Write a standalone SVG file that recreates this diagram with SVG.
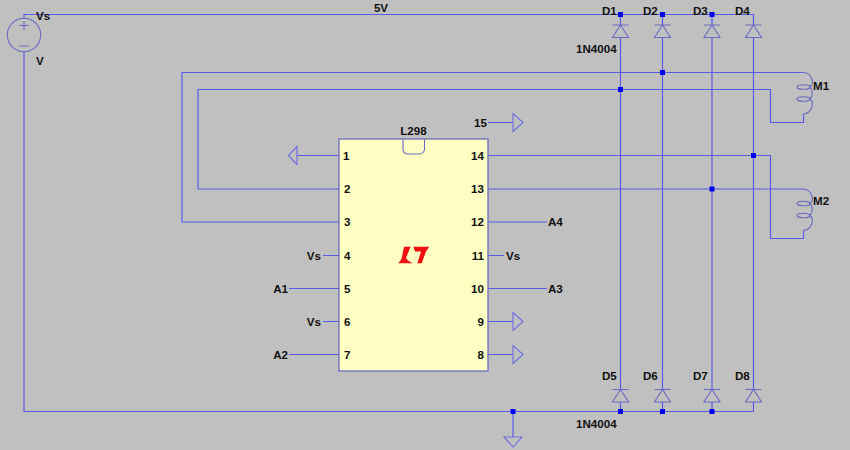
<svg xmlns="http://www.w3.org/2000/svg" width="850" height="450" viewBox="0 0 850 450">
<style>
.w{fill:none;stroke:#5a5ae6;stroke-width:1.2}
.s{fill:none;stroke:#6a6ac0;stroke-width:1.1}
.f{fill:none;stroke:#6c6ce0;stroke-width:1.1}
.j{fill:#0000f0}
text{font-family:"Liberation Sans",Arial,sans-serif;font-size:11.600px;font-weight:bold;fill:#111}
.m{text-anchor:middle}
.e{text-anchor:end}
</style>
<defs>
<path id="diode" class="s" d="M-8 0H8M0 0L-8 12.500H8Z"/>
<g id="coil" class="s">
<path d="M0 0C8 0.500 11.500 10.500 6.500 14.500C9.500 17.500 9.500 23.500 6.500 26.500C11.500 30.500 8 41 0 41.500"/>
<ellipse cx="0" cy="14.500" rx="6.500" ry="2.300"/>
<ellipse cx="0" cy="26.500" rx="6.500" ry="2.300"/>
</g>
<rect id="junction" x="-2.500" y="-2.500" width="5" height="5" class="j"/>
</defs>
<rect width="850" height="450" fill="#c0c0c0"/>
<g id="connectors">
<path class="w" d="M24 18.500V14.500H753.500V25M24 51.500V411.500H753.500V402"/>
<path class="w" d="M620.500 14.500V25M620.500 37.500V389.500M620.500 402V411.500"/>
<path class="w" d="M662.500 14.500V25M662.500 37.500V389.500M662.500 402V411.500"/>
<path class="w" d="M712 14.500V25M712 37.500V389.500M712 402V411.500"/>
<path class="w" d="M753.500 37.500V389.500"/>
<path class="w" d="M339 222H182V72.500H803.500"/>
<path class="w" d="M339 189H198V89.500H770.500V122.500H803.500V114"/>
<path class="w" d="M488 155.500H770.500V238.500H803.500V230.500"/>
<path class="w" d="M488 189H803.500"/>
<path class="w" d="M339 155.500H297M339 255.500H323M339 288.500H289M339 321.500H323M339 354.500H289"/>
<path class="w" d="M488 222H547M488 255.500H504M488 288.500H547M488 321.500H513M488 354.500H513M488 122.500H513M513 411.500V437"/>
</g>
<g id="V1">
<circle cx="24" cy="35" r="16.700" class="s"/>
<path class="s" d="M24 21V30M19.500 25.500H28.500M19.500 46H28.500"/>
<text x="36" y="20">Vs</text>
<text x="36" y="65">V</text>
</g>
<g id="net-5V"><text x="381" y="12" class="m">5V</text></g>
<g id="U1">
<rect x="339" y="139" width="149" height="232" fill="#ffffc4" stroke="#6a6ac0" stroke-width="1.300"/>
<path class="s" d="M403 139V149C403 152 405 154 408 154H419C422 154 424.500 152 424.500 149V139"/>
<path d="M404 246.700H410.500L406 258L408 260.500L412.500 263.300H398.300L401.500 259ZM413.300 246.700H429.300L426 251.500L421.700 263.300H417.300L421 251.500H415Z" fill="#f01010"/>
<text x="413.500" y="135" class="m">L298</text>
<text x="343" y="160">1</text><text x="344" y="193">2</text><text x="344" y="226">3</text><text x="344" y="260">4</text><text x="344" y="293">5</text><text x="344" y="326">6</text><text x="344" y="359">7</text>
<text x="484" y="160" class="e">14</text><text x="484" y="193" class="e">13</text><text x="484" y="226" class="e">12</text><text x="484" y="260" class="e">11</text><text x="484" y="293" class="e">10</text><text x="484" y="326" class="e">9</text><text x="484" y="359" class="e">8</text>
<text x="474" y="127">15</text>
<text x="321" y="260" class="e">Vs</text><text x="288" y="293" class="e">A1</text><text x="321" y="326" class="e">Vs</text><text x="288" y="359" class="e">A2</text>
<text x="548" y="226">A4</text><text x="506" y="260">Vs</text><text x="548" y="293">A3</text>
</g>
<g id="flags">
<path class="f" d="M297 146.500V164.500L288.500 155.500Z"/>
<path class="f" d="M513 113.500V131.500L523 122.500Z"/>
<path class="f" d="M513 312.500V330.500L523 321.500Z"/>
<path class="f" d="M513 345.500V363.500L523 354.500Z"/>
<path class="f" d="M504 437H522L513 447Z"/>
</g>
<g id="D1"><use href="#diode" x="620.500" y="25"/><text x="602" y="15">D1</text><text x="576" y="53">1N4004</text></g>
<g id="D2"><use href="#diode" x="662.500" y="25"/><text x="643" y="15">D2</text></g>
<g id="D3"><use href="#diode" x="712" y="25"/><text x="693" y="15">D3</text></g>
<g id="D4"><use href="#diode" x="753.500" y="25"/><text x="735" y="15">D4</text></g>
<g id="D5"><use href="#diode" x="620.500" y="389.500"/><text x="602" y="380">D5</text><text x="576" y="428">1N4004</text></g>
<g id="D6"><use href="#diode" x="662.500" y="389.500"/><text x="643" y="380">D6</text></g>
<g id="D7"><use href="#diode" x="712" y="389.500"/><text x="693" y="380">D7</text></g>
<g id="D8"><use href="#diode" x="753.500" y="389.500"/><text x="735" y="380">D8</text></g>
<g id="M1"><use href="#coil" x="803.500" y="72.500"/><text x="813" y="90">M1</text></g>
<g id="M2"><use href="#coil" x="803.500" y="189"/><text x="813" y="205">M2</text></g>
<g id="junctions">
<use href="#junction" x="620.500" y="14.500"/><use href="#junction" x="662.500" y="14.500"/><use href="#junction" x="712" y="14.500"/>
<use href="#junction" x="662.500" y="72.500"/><use href="#junction" x="620.500" y="89.500"/>
<use href="#junction" x="753.500" y="155.500"/><use href="#junction" x="712" y="189"/>
<use href="#junction" x="513" y="411.500"/><use href="#junction" x="620.500" y="411.500"/><use href="#junction" x="662.500" y="411.500"/><use href="#junction" x="712" y="411.500"/>
</g>
</svg>
